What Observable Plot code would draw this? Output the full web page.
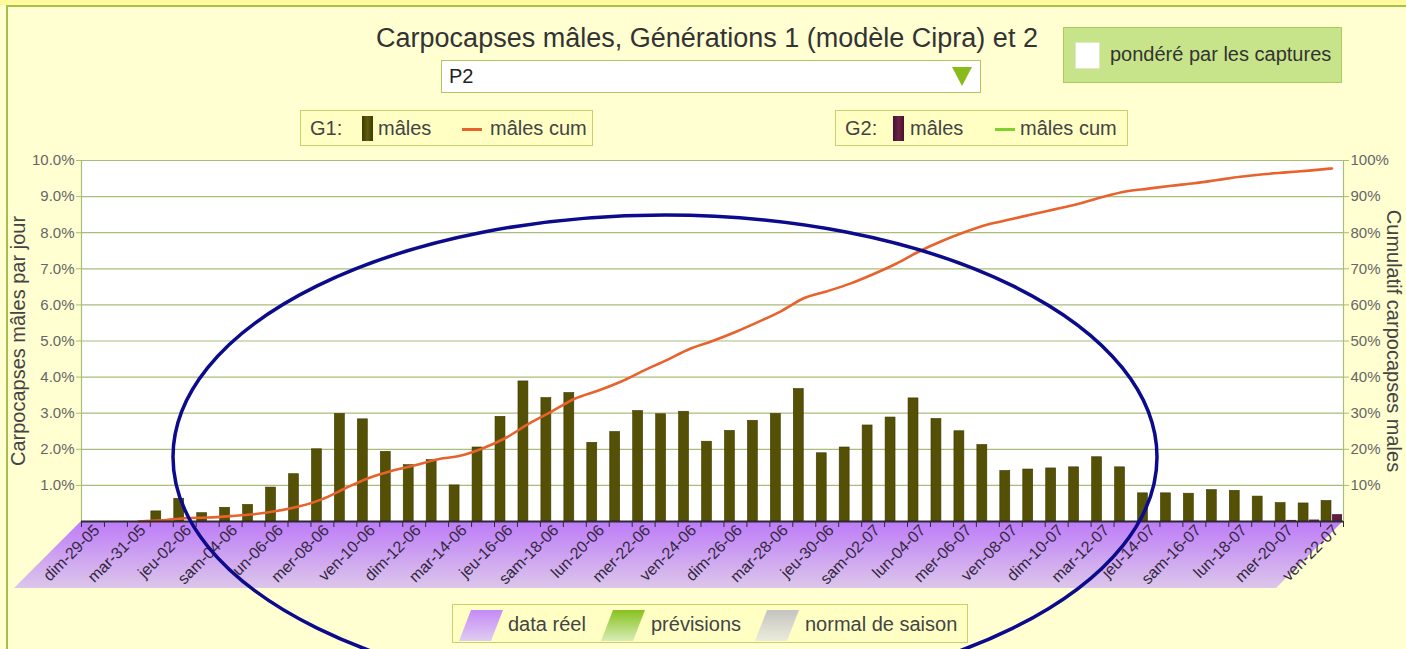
<!DOCTYPE html>
<html><head><meta charset="utf-8">
<script src="https://cdn.jsdelivr.net/npm/d3@7"></script>
<script src="https://cdn.jsdelivr.net/npm/@observablehq/plot@0.6"></script>
<style>
body{margin:0;width:1406px;height:649px;overflow:hidden;background:#ffffd2;font-family:"Liberation Sans",Arial,sans-serif;position:relative;color:#333}
.abs{position:absolute}
#topband{left:0;top:0;width:1406px;height:5px;background:#fffb9c}
#frame{left:6px;top:5px;width:1400px;height:644px;border-left:2px solid #a6c050;border-top:2px solid #a6c050;box-sizing:border-box}
#title{left:4px;width:1406px;top:23px;text-align:center;font-size:27px;color:#333;white-space:nowrap}
#select{left:441px;top:60px;width:540px;height:33px;background:#fff;border:1px solid #b2c466;box-sizing:border-box;font-size:20px;line-height:31px;padding-left:7px;color:#222}
#arrow{left:952px;top:67px;width:0;height:0;border-left:10px solid transparent;border-right:10px solid transparent;border-top:19px solid #8abb1c}
#pond{left:1063px;top:27px;width:279px;height:56px;background:#c7e48a;border:1px solid #a9cd5c;box-sizing:border-box}
#pond .cb{position:absolute;left:11px;top:14px;width:25px;height:27px;background:#fff;border:1px solid #e0e8c8;box-sizing:border-box}
#pond .t{position:absolute;left:46px;top:15px;font-size:20px;color:#333;white-space:nowrap}
.leg{height:36px;background:#ffffc4;border:1px solid #c6d36a;box-sizing:border-box;font-size:20px;color:#444;white-space:nowrap}
.leg span{position:absolute;top:6px}
.sw{position:absolute;top:5px;width:11px;height:25px}
.ln{position:absolute;top:17px;width:20px;height:3px}
#bleg{left:452px;top:604px;width:516px;height:39px;background:#ffffc4;border:1px solid #c6d36a;box-sizing:border-box;font-size:20px;color:#444;white-space:nowrap}
#bleg span{position:absolute;top:8px}
#bleg svg{position:absolute;top:3px}
#chart{left:0;top:150px}
#ann{left:0;top:0;pointer-events:none}
</style></head>
<body>
<div class="abs" id="topband"></div>
<div class="abs" id="frame"></div>
<div class="abs" id="title">Carpocapses mâles, Générations 1 (modèle Cipra) et 2</div>
<div class="abs" id="select">P2</div>
<div class="abs" id="arrow"></div>
<div class="abs" id="pond"><div class="cb"></div><div class="t">pondéré par les captures</div></div>
<div class="abs leg" style="left:300px;top:110px;width:293px">
  <span style="left:9px">G1:</span>
  <div class="sw" style="left:61px;background:linear-gradient(90deg,#3f3c00,#5f5b0c,#3f3c00)"></div>
  <span style="left:77px">mâles</span>
  <div class="ln" style="left:161px;background:#e8622c"></div>
  <span style="left:189px">mâles cum</span>
</div>
<div class="abs leg" style="left:835px;top:110px;width:293px">
  <span style="left:9px">G2:</span>
  <div class="sw" style="left:57px;background:linear-gradient(90deg,#4a1030,#6a2448,#4a1030)"></div>
  <span style="left:74px">mâles</span>
  <div class="ln" style="left:159px;background:#7ed12e"></div>
  <span style="left:184px">mâles cum</span>
</div>
<div id="chart" class="abs"></div>
<div class="abs" id="bleg">
  <svg width="44" height="33" style="left:6px"><defs><linearGradient id="gp" x1="0" y1="0" x2="0" y2="1"><stop offset="0" stop-color="#c48af6"/><stop offset="1" stop-color="#e0cdf0"/></linearGradient></defs><polygon points="12,2 44,2 32,33 0,33" fill="url(#gp)"/></svg>
  <span style="left:55px">data réel</span>
  <svg width="44" height="33" style="left:148px"><defs><linearGradient id="gg" x1="0" y1="0" x2="0" y2="1"><stop offset="0" stop-color="#86c21e"/><stop offset="1" stop-color="#d8ecb6"/></linearGradient></defs><polygon points="12,2 44,2 32,33 0,33" fill="url(#gg)"/></svg>
  <span style="left:198px">prévisions</span>
  <svg width="44" height="33" style="left:302px"><defs><linearGradient id="gr" x1="0" y1="0" x2="0" y2="1"><stop offset="0" stop-color="#c4c4c0"/><stop offset="1" stop-color="#ececdc"/></linearGradient></defs><polygon points="12,2 44,2 32,33 0,33" fill="url(#gr)"/></svg>
  <span style="left:352px">normal de saison</span>
</div>
<svg id="ann" class="abs" width="1406" height="649"><ellipse cx="665" cy="457" rx="492" ry="242" fill="none" stroke="#0b0b8c" stroke-width="3.5"/></svg>
<script>
// ---- data ----
const days = ["dim-29-05","lun-30-05","mar-31-05","mer-01-06","jeu-02-06","ven-03-06","sam-04-06","dim-05-06","lun-06-06","mar-07-06",
"mer-08-06","jeu-09-06","ven-10-06","sam-11-06","dim-12-06","lun-13-06","mar-14-06","mer-15-06","jeu-16-06","ven-17-06",
"sam-18-06","dim-19-06","lun-20-06","mar-21-06","mer-22-06","jeu-23-06","ven-24-06","sam-25-06","dim-26-06","lun-27-06",
"mar-28-06","mer-29-06","jeu-30-06","ven-01-07","sam-02-07","dim-03-07","lun-04-07","mar-05-07","mer-06-07","jeu-07-07",
"ven-08-07","sam-09-07","dim-10-07","lun-11-07","mar-12-07","mer-13-07","jeu-14-07","ven-15-07","sam-16-07","dim-17-07",
"lun-18-07","mar-19-07","mer-20-07","jeu-21-07","ven-22-07"];
// G1 males per day (%)
const g1Males = [0,0,0,0.28,0.63,0.23,0.38,0.46,0.94,1.31,
2.0,2.98,2.83,1.93,1.56,1.70,1.0,2.05,2.90,3.88,
3.42,3.56,2.18,2.48,3.06,2.97,3.04,2.21,2.51,2.79,
2.98,3.67,1.89,2.05,2.66,2.88,3.41,2.84,2.50,2.12,
1.40,1.44,1.47,1.50,1.78,1.50,0.78,0.78,0.77,0.87,
0.85,0.69,0.51,0.50,0.57];
// G2 males per day (%)
const g2Males = [0,0,0,0,0,0,0,0,0,0, 0,0,0,0,0,0,0,0,0,0, 0,0,0,0,0,0,0,0,0,0,
0,0,0,0,0,0,0,0,0,0, 0,0,0,0,0,0,0,0,0,0, 0,0,0.03,0.04,0.19];
// G1 cumulative males (%)
const g1Cum = [null,null,0,0.3,0.9,1.1,1.5,2.0,2.9,4.2,
6.2,9.2,12.0,14.0,15.5,17.2,18.2,20.3,23.2,27.1,
30.5,34.0,36.2,38.7,41.8,44.7,47.8,50.0,52.5,55.3,
58.3,61.9,63.8,65.9,68.5,71.4,74.8,77.7,80.2,82.3,
83.7,85.2,86.6,88.1,89.9,91.4,92.2,93.0,93.7,94.6,
95.5,96.2,96.7,97.2,97.8];
const leftTicks = [1,2,3,4,5,6,7,8,9,10];       // % per day
const rightTicks = [10,20,30,40,50,60,70,80,90,100]; // cumulative %
const labelDays = days.filter((d,i) => i % 2 === 0);

const data = days.map((d,i) => ({i, day:d, g1:g1Males[i], g2:g2Males[i], cum:g1Cum[i]}));
const cumRatio = 10; // right axis 100% == left axis 10%

function floor(index, scales) {
  const x0 = scales.x(0), x1 = scales.x(days.length), y0 = scales.y(0), depth = 67;
  const g = d3.create("svg:g");
  const lg = g.append("defs").append("linearGradient").attr("id","floorGrad")
    .attr("x1",0).attr("y1",0).attr("x2",0).attr("y2",1);
  lg.append("stop").attr("offset","0%").attr("stop-color","#bd7bf8");
  lg.append("stop").attr("offset","100%").attr("stop-color","#dcc6ea");
  g.append("polygon")
    .attr("points", [[x0,y0],[x1,y0],[x1-depth,y0+depth],[x0-depth,y0+depth]].map(p=>p.join(",")).join(" "))
    .attr("fill","url(#floorGrad)");
  return g.node();
}

const grid = "#a9bd7a";
const chart = Plot.plot({
  width: 1406, height: 446,
  marginLeft: 81, marginRight: 63, marginTop: 10, marginBottom: 75,
  style: {fontFamily: "'Liberation Sans', Arial, sans-serif", fontSize: "15px", background: "transparent", overflow: "visible"},
  x: {domain: [0, days.length], axis: null},
  y: {domain: [0, 10], axis: null},
  marks: [
    Plot.frame({fill: "white", stroke: null}),
    floor,
    Plot.ruleY(leftTicks, {stroke: grid, strokeWidth: 1.2}),
    Plot.ruleX([0, days.length], {stroke: grid, strokeWidth: 1.2}),
    Plot.rectY(data, {x1: "i", x2: d => d.i + 1, y: "g1", fill: "#545006", stroke: "#3e3b00", strokeWidth: 0.6, insetLeft: 1, insetRight: 12}),
    Plot.rectY(data.filter(d => d.g2 > 0), {x1: "i", x2: d => d.i + 1, y: "g2", fill: "#5e1c42", insetLeft: 12, insetRight: 1}),
    Plot.line(data.filter(d => d.cum != null), {x: d => d.i + 0.5, y: d => d.cum / cumRatio, stroke: "#e8622c", strokeWidth: 2.6, curve: "monotone-x"}),
    Plot.ruleY([0], {stroke: "#2d2a30", strokeWidth: 2}),
    Plot.axisX(d3.range(days.length + 1), {tickSize: 6, tickFormat: () => "", stroke: "#2d2a30", label: null}),
    Plot.axisX(labelDays.map(d => days.indexOf(d) + 0.5), {tickSize: 0, tickPadding: 6, dx: 4, tickRotate: -45, tickFormat: v => days[v - 0.5], fill: "#33283f", fontSize: 16, label: null}),
    Plot.axisY(leftTicks, {anchor: "left", tickSize: 5, tickPadding: 2, stroke: grid, fill: "#666", tickFormat: d => d.toFixed(1) + "%", label: null}),
    Plot.axisY(rightTicks.map(t => t / cumRatio), {anchor: "right", tickSize: 5, tickPadding: 2, stroke: grid, fill: "#666", tickFormat: d => Math.round(d * cumRatio) + "%", label: null}),
    Plot.text(["Carpocapses mâles par jour"], {frameAnchor: "left", textAnchor: "middle", rotate: -90, dx: -63, fontSize: 20, fill: "#444"}),
    Plot.text(["Cumulatif carpocapses males"], {frameAnchor: "right", textAnchor: "middle", rotate: 90, dx: 50, fontSize: 20, fill: "#444"})
  ]
});
document.getElementById("chart").appendChild(chart);
</script>
</body></html>
